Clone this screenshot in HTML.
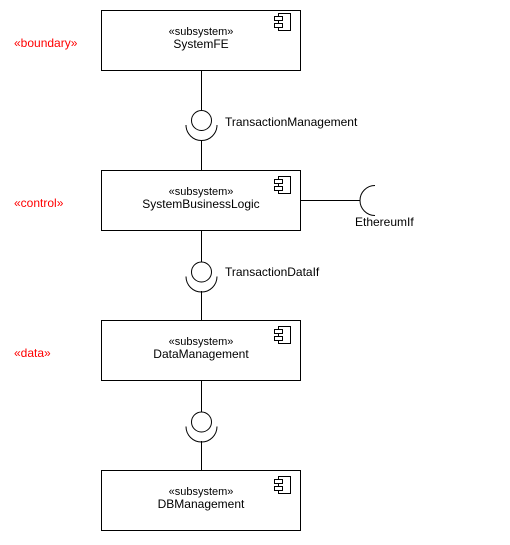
<!DOCTYPE html>
<html><head><style>
body{margin:0;background:#fff;width:510px;height:540px;overflow:hidden}
svg text{font-family:"Liberation Sans",Helvetica,sans-serif;font-size:12px}
</style></head><body>
<svg width="510" height="540" viewBox="0 0 510 540" xmlns="http://www.w3.org/2000/svg">
<g fill="none" stroke="#000" stroke-width="1">
<line x1="201.5" y1="70" x2="201.5" y2="110"/>
<line x1="201.5" y1="140" x2="201.5" y2="170"/>
<line x1="201.5" y1="230" x2="201.5" y2="262"/>
<line x1="201.5" y1="291" x2="201.5" y2="320"/>
<line x1="201.5" y1="380" x2="201.5" y2="412"/>
<line x1="201.5" y1="441" x2="201.5" y2="470"/>
<line x1="300" y1="200.5" x2="360" y2="200.5"/>
<circle cx="201.5" cy="120.5" r="10"/>
<circle cx="201.5" cy="272" r="10"/>
<circle cx="201.5" cy="422" r="10"/>
<path d="M186 125 A15.5 15.5 0 0 0 217 125"/>
<path d="M186 276.5 A15.5 15.5 0 0 0 217 276.5"/>
<path d="M186 426.5 A15.5 15.5 0 0 0 217 426.5"/>
<path d="M375 185.5 A15 15 0 0 0 375 215.5"/>
<rect x="101.5" y="10.5" width="199" height="60"/>
<rect x="101.5" y="170.5" width="199" height="60"/>
<rect x="101.5" y="320.5" width="199" height="60"/>
<rect x="101.5" y="470.5" width="199" height="60"/>
</g>
<g fill="#fff" stroke="#000" stroke-width="1">
<g><rect x="278.5" y="13.5" width="12" height="17"/><rect x="274.5" y="16.5" width="8" height="4"/><rect x="274.5" y="23.5" width="8" height="4"/></g>
<g transform="translate(0,163)"><rect x="278.5" y="13.5" width="12" height="17"/><rect x="274.5" y="16.5" width="8" height="4"/><rect x="274.5" y="23.5" width="8" height="4"/></g>
<g transform="translate(0,313)"><rect x="278.5" y="13.5" width="12" height="17"/><rect x="274.5" y="16.5" width="8" height="4"/><rect x="274.5" y="23.5" width="8" height="4"/></g>
<g transform="translate(0,463)"><rect x="278.5" y="13.5" width="12" height="17"/><rect x="274.5" y="16.5" width="8" height="4"/><rect x="274.5" y="23.5" width="8" height="4"/></g>
</g>
<g fill="#000" text-anchor="middle">
<text x="201" y="35" style="font-size:11px">«subsystem»</text>
<text x="201" y="48">SystemFE</text>
<text x="201" y="195" style="font-size:11px">«subsystem»</text>
<text x="201" y="208">SystemBusinessLogic</text>
<text x="201" y="345" style="font-size:11px">«subsystem»</text>
<text x="201" y="358">DataManagement</text>
<text x="201" y="495" style="font-size:11px">«subsystem»</text>
<text x="201" y="508">DBManagement</text>
</g>
<g fill="#000">
<text x="225" y="126">TransactionManagement</text>
<text x="225" y="276">TransactionDataIf</text>
<text x="355" y="226">EthereumIf</text>
</g>
<g fill="#ff0000">
<text x="14" y="47">«boundary»</text>
<text x="14" y="207">«control»</text>
<text x="14" y="357">«data»</text>
</g>
</svg>
</body></html>
